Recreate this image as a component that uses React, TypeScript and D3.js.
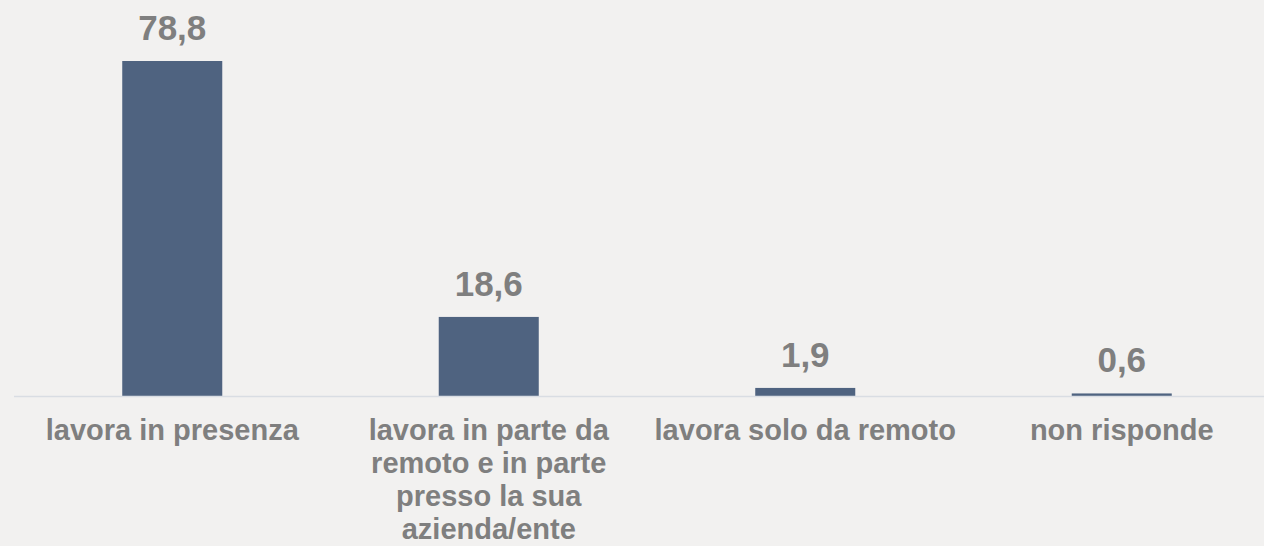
import React from "react";
import * as d3 from "d3";

const categories: string[] = [
  "lavora in presenza",
  "lavora in parte da remoto e in parte presso la sua azienda/ente",
  "lavora solo da remoto",
  "non risponde",
];
const values: number[] = [78.8, 18.6, 1.9, 0.6];

const W = 1264;
const H = 546;
const FONT = "Arial, 'Liberation Sans', sans-serif";
const CAT_SIZE = 29;
const VAL_SIZE = 35;

function measure(text: string, size: number): number {
  const c = document.createElement("canvas");
  const ctx = c.getContext("2d");
  if (!ctx) return text.length * size * 0.55;
  ctx.font = `bold ${size}px ${FONT}`;
  return ctx.measureText(text).width;
}

function wrap(text: string, maxW: number, size: number): string[] {
  const words = text.split(" ");
  const lines: string[] = [];
  let cur = "";
  for (const w of words) {
    const t = cur ? cur + " " + w : w;
    if (cur && measure(t, size) > maxW) {
      lines.push(cur);
      cur = w;
    } else cur = t;
  }
  if (cur) lines.push(cur);
  return lines;
}

export default function App() {
  const baseY = 396;
  const x = d3
    .scaleBand<string>()
    .domain(categories)
    .range([14, 1280])
    .paddingInner(0.684)
    .paddingOuter(0.342);
  const y = d3.scaleLinear().domain([0, 78.8]).range([baseY, 61]);
  const fmt = (v: number) => d3.format(".1f")(v).replace(".", ",");

  return (
    <svg
      width={W}
      height={H}
      style={{ position: "absolute", left: 0, top: 0, background: "#f2f1f0" }}
    >
      <rect x={0} y={0} width={W} height={H} fill="#f2f1f0" />
      {categories.map((c, i) => {
        const bx = x(c) as number;
        const bw = x.bandwidth();
        const top = y(values[i]);
        const cx = bx + bw / 2;
        const lines = wrap(c, x.step(), CAT_SIZE);
        return (
          <g key={c}>
            <rect x={bx} y={top} width={bw} height={baseY - top} fill="#4f6380" />
            <text
              x={cx}
              y={top - 21}
              textAnchor="middle"
              fontFamily={FONT}
              fontWeight="bold"
              fontSize={VAL_SIZE}
              fill="#7f7f7f"
            >
              {fmt(values[i])}
            </text>
            <text
              textAnchor="middle"
              fontFamily={FONT}
              fontWeight="bold"
              fontSize={CAT_SIZE}
              fill="#7f7f7f"
            >
              {lines.map((l, j) => (
                <tspan key={j} x={cx} y={440 + j * 33}>
                  {l}
                </tspan>
              ))}
            </text>
          </g>
        );
      })}
      <line x1={14} x2={W} y1={baseY + 0.5} y2={baseY + 0.5} stroke="#d9dde3" strokeWidth={1.5} />
    </svg>
  );
}
